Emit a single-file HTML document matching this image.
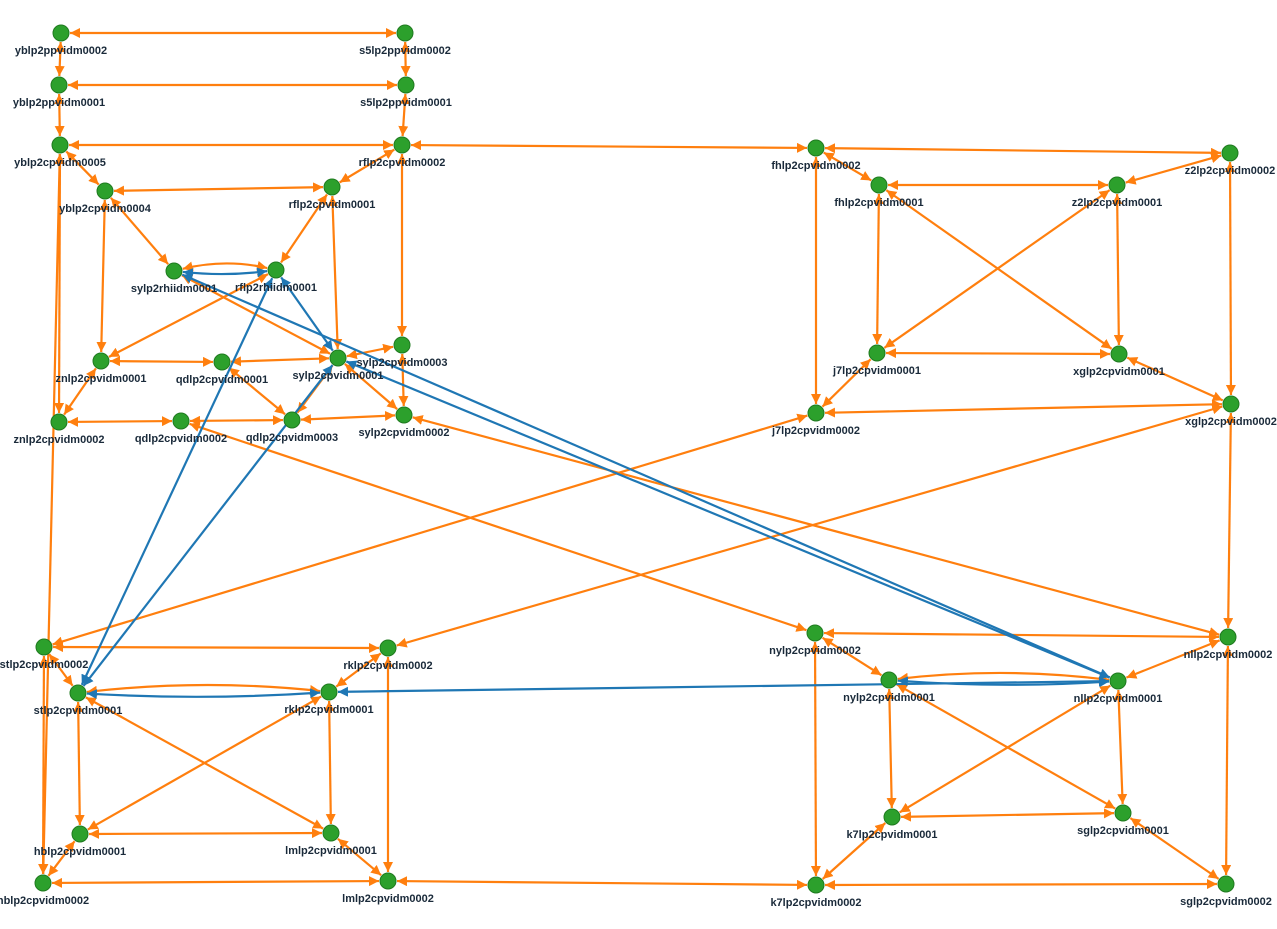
<!DOCTYPE html>
<html><head><meta charset="utf-8"><style>
html,body{margin:0;padding:0;background:#fff;}
svg text{font-family:"Liberation Sans",sans-serif;font-size:11px;font-weight:bold;fill:#1a2a3a;text-anchor:middle;}
</style></head><body>
<svg id="g" width="1277" height="924" xmlns="http://www.w3.org/2000/svg">
<defs>
<marker id="ao" viewBox="0 0 10 10" refX="10" refY="5" markerWidth="10" markerHeight="10" markerUnits="userSpaceOnUse" orient="auto-start-reverse"><path d="M0,0 L10,5 L0,10 z" fill="#ff7f0e"/></marker>
<marker id="ab" viewBox="0 0 10 10" refX="10" refY="5" markerWidth="10" markerHeight="10" markerUnits="userSpaceOnUse" orient="auto-start-reverse"><path d="M0,0 L10,5 L0,10 z" fill="#1f77b4"/></marker>
</defs>
<g id="E"></g><g id="N"></g>
</svg>
<script>
const P={
yb2pp2:[61,33],s52:[405,33],yb2pp1:[59,85],s51:[406,85],yb5:[60,145],rf2:[402,145],fh2:[816,148],z22:[1230,153],
yb4:[105,191],rf1:[332,187],fh1:[879,185],z21:[1117,185],syr:[174,271],rfr:[276,270],sy3:[402,345],zn1:[101,361],
qd1:[222,362],sy1:[338,358],j71:[877,353],xg1:[1119,354],zn2:[59,422],qd2:[181,421],qd3:[292,420],sy2:[404,415],
j72:[816,413],xg2:[1231,404],st2:[44,647],rk2:[388,648],ny2:[815,633],nl2:[1228,637],st1:[78,693],rk1:[329,692],
ny1:[889,680],nl1:[1118,681],hb1:[80,834],lm1:[331,833],k71:[892,817],sg1:[1123,813],hb2:[43,883],lm2:[388,881],
k72:[816,885],sg2:[1226,884]};
const L={yb2pp2:"yblp2ppvidm0002",s52:"s5lp2ppvidm0002",yb2pp1:"yblp2ppvidm0001",s51:"s5lp2ppvidm0001",yb5:"yblp2cpvidm0005",rf2:"rflp2cpvidm0002",fh2:"fhlp2cpvidm0002",z22:"z2lp2cpvidm0002",yb4:"yblp2cpvidm0004",rf1:"rflp2cpvidm0001",fh1:"fhlp2cpvidm0001",z21:"z2lp2cpvidm0001",syr:"sylp2rhiidm0001",rfr:"rflp2rhiidm0001",sy3:"sylp2cpvidm0003",zn1:"znlp2cpvidm0001",qd1:"qdlp2cpvidm0001",sy1:"sylp2cpvidm0001",j71:"j7lp2cpvidm0001",xg1:"xglp2cpvidm0001",zn2:"znlp2cpvidm0002",qd2:"qdlp2cpvidm0002",qd3:"qdlp2cpvidm0003",sy2:"sylp2cpvidm0002",j72:"j7lp2cpvidm0002",xg2:"xglp2cpvidm0002",st2:"stlp2cpvidm0002",rk2:"rklp2cpvidm0002",ny2:"nylp2cpvidm0002",nl2:"nllp2cpvidm0002",st1:"stlp2cpvidm0001",rk1:"rklp2cpvidm0001",ny1:"nylp2cpvidm0001",nl1:"nllp2cpvidm0001",hb1:"hblp2cpvidm0001",lm1:"lmlp2cpvidm0001",k71:"k7lp2cpvidm0001",sg1:"sglp2cpvidm0001",hb2:"hblp2cpvidm0002",lm2:"lmlp2cpvidm0002",k72:"k7lp2cpvidm0002",sg2:"sglp2cpvidm0002"};
const O=`yb2pp2 s52,yb2pp2 yb2pp1,s52 s51,yb2pp1 s51,yb2pp1 yb5,s51 rf2,yb5 rf2,rf2 fh2,fh2 z22,yb5 yb4,rf2 rf1,yb4 rf1,yb5 zn2,yb5 hb2,yb4 syr,yb4 zn1,rf1 rfr,rf1 sy1,rf2 sy3,syr sy1,rfr zn1,zn1 qd1,qd1 sy1,sy1 sy3,sy3 sy2,sy1 qd3,sy1 sy2,qd3 qd1,zn2 qd2,qd2 qd3,qd3 sy2,zn2 zn1,qd2 ny2,sy2 nl2,j72 st2,xg2 rk2,j72 xg2,fh2 fh1,fh2 j72,z22 z21,z22 xg2,fh1 z21,fh1 j71,fh1 xg1,z21 j71,z21 xg1,j71 xg1,j71 j72,xg1 xg2,xg2 nl2,st2 rk2,st2 st1,rk2 rk1,st2 hb2,rk2 lm2,st1 hb1,st1 lm1,rk1 hb1,rk1 lm1,hb1 lm1,hb1 hb2,lm1 lm2,hb2 lm2,lm2 k72,k72 sg2,ny2 nl2,ny2 ny1,ny2 k72,nl2 nl1,nl2 sg2,ny1 k71,ny1 sg1,nl1 k71,nl1 sg1,k71 sg1,k71 k72,sg1 sg2`;
const B=`rfr sy1,syr nl1,sy1 nl1,rfr st1,sy1 st1,rk1 nl1`;
const E=document.getElementById('E'),N=document.getElementById('N'),ns="http://www.w3.org/2000/svg";
function line(a,b,c,m,curve){const[x1,y1]=P[a],[x2,y2]=P[b];const dx=x2-x1,dy=y2-y1,d=Math.hypot(dx,dy),r=9;
let el=document.createElementNS(ns,'path');
if(curve){const mx=(x1+x2)/2-dy/d*curve,my=(y1+y2)/2+dx/d*curve;
const a1=Math.atan2(my-y1,mx-x1),a2=Math.atan2(my-y2,mx-x2);
el.setAttribute('d',`M${x1+r*Math.cos(a1)},${y1+r*Math.sin(a1)} Q${mx},${my} ${x2+r*Math.cos(a2)},${y2+r*Math.sin(a2)}`);}
else el.setAttribute('d',`M${x1+dx/d*r},${y1+dy/d*r} L${x2-dx/d*r},${y2-dy/d*r}`);
el.setAttribute('stroke',c);el.setAttribute('stroke-width','2.2');el.setAttribute('fill','none');
el.setAttribute('marker-end',`url(#${m})`);el.setAttribute('marker-start',`url(#${m})`);E.appendChild(el);}
O.split(',').forEach(s=>{const[a,b]=s.trim().split(' ');line(a,b,'#ff7f0e','ao');});
line('syr','rfr','#ff7f0e','ao',-12);line('syr','rfr','#1f77b4','ab',6);
line('st1','rk1','#ff7f0e','ao',-14);line('st1','rk1','#1f77b4','ab',8);
line('ny1','nl1','#ff7f0e','ao',-14);line('ny1','nl1','#1f77b4','ab',8);
B.split(',').forEach(s=>{const[a,b]=s.trim().split(' ');line(a,b,'#1f77b4','ab');});
for(const k in P){const[x,y]=P[k];const c=document.createElementNS(ns,'circle');c.setAttribute('cx',x);c.setAttribute('cy',y);c.setAttribute('r',8);c.setAttribute('fill','#2ca02c');c.setAttribute('stroke','#1f7a1f');c.setAttribute('stroke-width','1');N.appendChild(c);
const t=document.createElementNS(ns,'text');t.setAttribute('x',x);t.setAttribute('y',y+21);t.textContent=L[k];N.appendChild(t);}
</script>
</body></html>
